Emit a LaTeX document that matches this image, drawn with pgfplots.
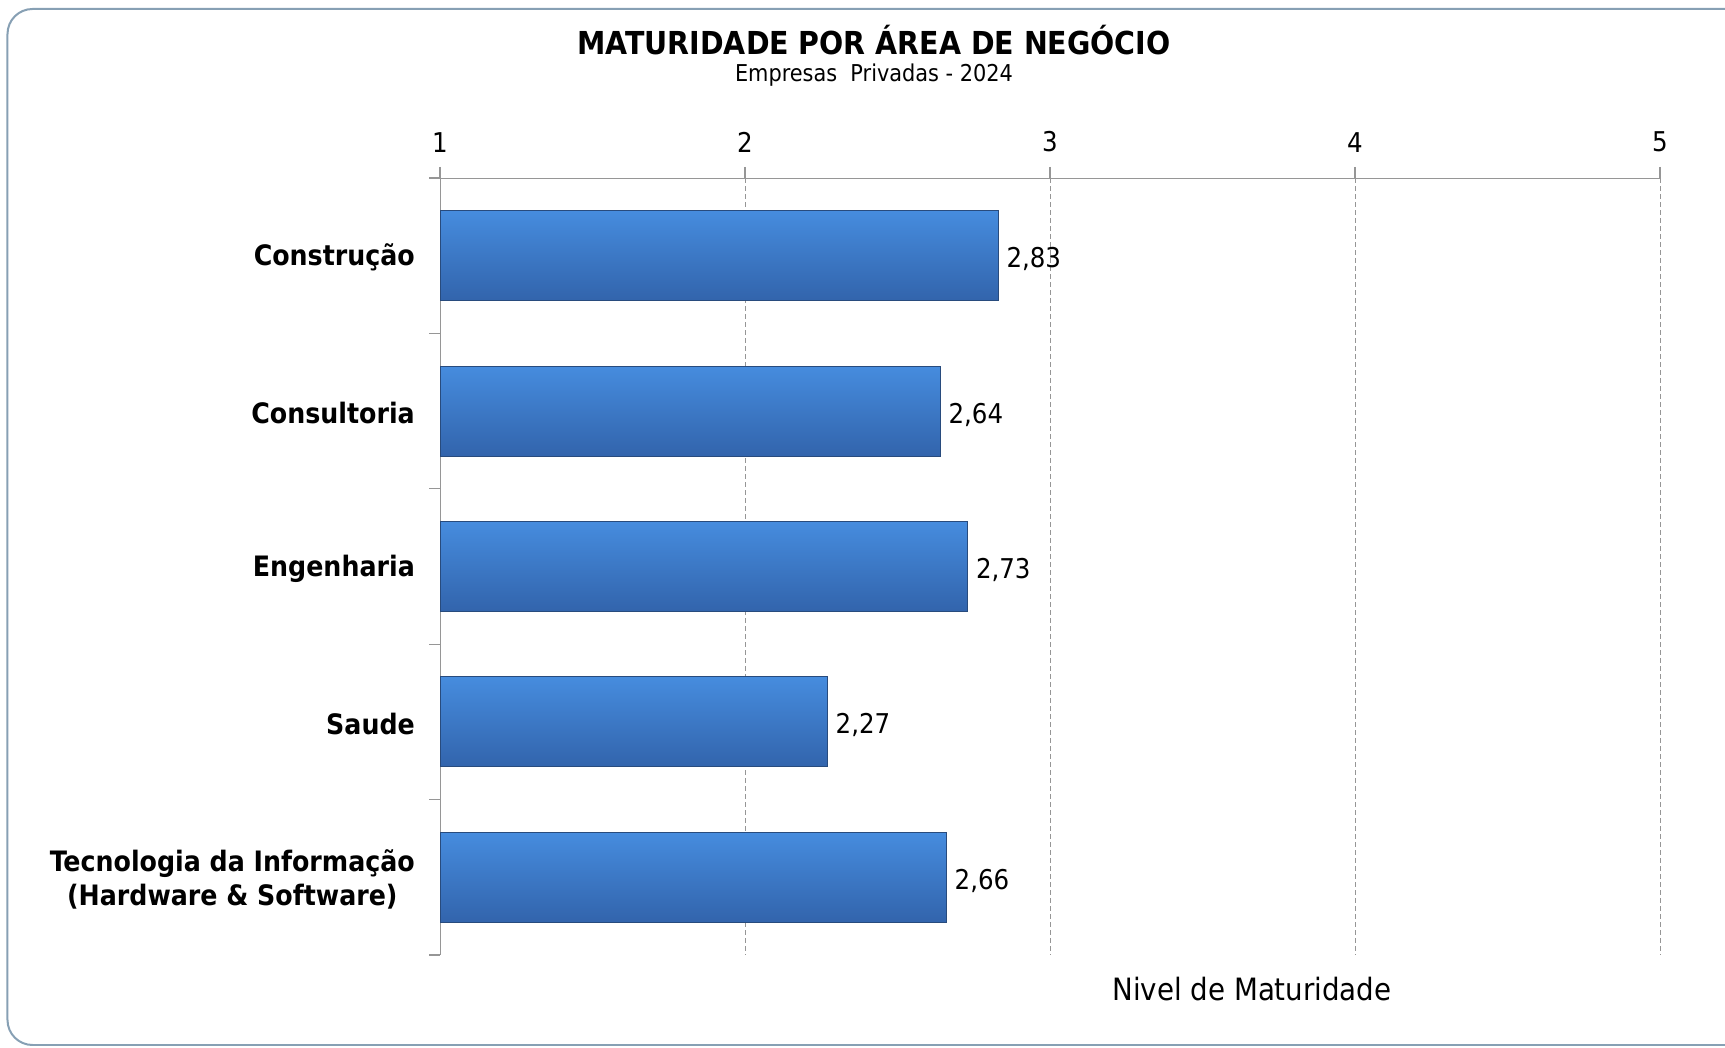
\documentclass[border=0pt]{standalone}
\usepackage{fontspec}
\setmainfont{DejaVu Sans Condensed}
\usepackage{pgfplots}
\pgfplotsset{compat=1.18}
\definecolor{barTop}{RGB}{70,140,222}
\definecolor{barBot}{RGB}{50,100,172}
\definecolor{barEdge}{RGB}{40,75,125}
\definecolor{frameC}{RGB}{135,160,180}
\definecolor{axisC}{RGB}{150,150,150}
\pgfplotsset{mybar/.style={xbar, bar width=1.8cm, bar shift=0pt, draw=barEdge, line width=0.6pt,
    top color=barTop, bottom color=barBot, point meta=x,
    nodes near coords={\pgfmathprintnumber[fixed,zerofill,precision=2,use comma,assume math mode=true]{\pgfplotspointmeta}},
    nodes near coords style={font=\fontsize{15.5}{18}\selectfont, black, xshift=0.04cm, yshift=-0.07cm}}}
\begin{document}
\begin{tikzpicture}[x=1cm,y=1cm]
\path[use as bounding box] (0,0) rectangle (34.5,20.96);
\draw[frameC, line width=0.04cm, rounded corners=0.5cm] (0.15,0.06) rectangle (35.2,20.78);
\node[font=\fontsize{18}{21}\selectfont\bfseries] at (17.48,20.16) {MATURIDADE POR ÁREA DE NEGÓCIO};
\node[font=\fontsize{13.2}{16}\selectfont] at (17.48,19.46) {Empresas\ \ Privadas - 2024};
\begin{axis}[
  at={(8.8cm,1.86cm)}, anchor=south west,
  scale only axis, width=24.4cm, height=15.54cm,
  xmin=1, xmax=5, ymin=-0.5, ymax=4.5, y dir=reverse,
  axis x line*=top, axis y line*=left,
  axis line style={draw=axisC, -},
  every tick/.style={draw=axisC, line width=0.6pt},
  xtick={1,2,3,4,5},
  tick align=outside, major tick length=0.22cm,
  /pgf/number format/assume math mode=true,
  xticklabel style={font=\fontsize{15.5}{18}\selectfont, yshift=0.17cm},
  xmajorgrids, grid style={axisC, dash pattern=on 0.1cm off 0.06cm},
  ytick={-0.5,0.5,1.5,2.5,3.5,4.5}, yticklabels={},
  extra y ticks={0,1,2,3,4},
  extra y tick labels={Construção,Consultoria,Engenharia,Saude,{Tecnologia da Informação\\(Hardware \& Software)}},
  extra y tick style={major tick length=0pt, ymajorgrids=false,
    yticklabel style={font=\fontsize{16}{19}\selectfont\bfseries, align=center, xshift=-0.38cm, yshift=-0.04cm}},
  xlabel={Nivel de Maturidade},
  xlabel style={font=\fontsize{17.5}{20}\selectfont, at={(axis description cs:0.6656,-0.044)}, anchor=center},
  clip=true,
]
\addplot[mybar] coordinates {(2.83,0)};
\addplot[mybar] coordinates {(2.64,1)};
\addplot[mybar] coordinates {(2.73,2)};
\addplot[mybar] coordinates {(2.27,3)};
\addplot[mybar] coordinates {(2.66,4)};
\end{axis}
\end{tikzpicture}
\end{document}
